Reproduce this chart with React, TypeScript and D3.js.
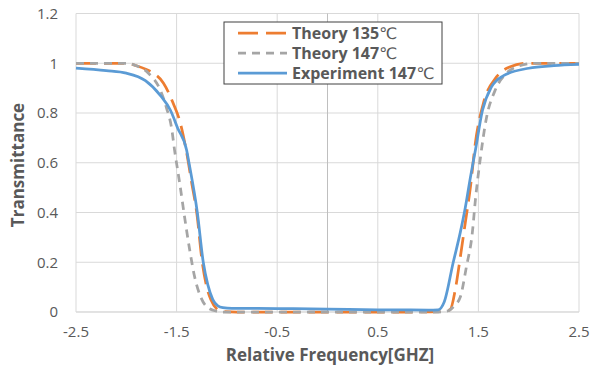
import React from "react";
import * as d3 from "d3";

const xTicks = [-2.5, -1.5, -0.5, 0.5, 1.5, 2.5];
const yTicks = [0, 0.2, 0.4, 0.6, 0.8, 1, 1.2];

const theory135X = [-2.5, -2.2, -2.0, -1.9, -1.8, -1.73, -1.63, -1.535, -1.47, -1.4, -1.35, -1.3, -1.245, -1.2, -1.16, -1.1, -1.05, -0.9, 0, 0.9, 1.15, 1.22, 1.27, 1.32, 1.37, 1.42, 1.47, 1.55, 1.68, 1.81, 1.98, 2.2, 2.5];
const theory135Y = [1, 1, 1, 0.99, 0.975, 0.96, 0.92, 0.84, 0.77, 0.64, 0.52, 0.4, 0.2, 0.1, 0.05, 0.012, 0.002, 0, 0, 0, 0.002, 0.01, 0.09, 0.22, 0.36, 0.5, 0.68, 0.84, 0.945, 0.985, 1, 1, 1];

const theory147X = [-2.5, -2.2, -2.0, -1.9, -1.78, -1.66, -1.6, -1.55, -1.52, -1.47, -1.42, -1.37, -1.32, -1.26, -1.18, -1.1, -1.05, -0.9, 0, 0.9, 1.1, 1.2, 1.26, 1.32, 1.38, 1.44, 1.47, 1.52, 1.58, 1.665, 1.78, 1.91, 2.05, 2.5];
const theory147Y = [1, 1, 1, 0.99, 0.96, 0.89, 0.82, 0.74, 0.65, 0.52, 0.38, 0.25, 0.14, 0.06, 0.015, 0.003, 0, 0, 0, 0, 0, 0.005, 0.025, 0.06, 0.18, 0.32, 0.45, 0.62, 0.78, 0.89, 0.96, 0.99, 1, 1];

const experimentX = [-2.5, -2.2, -2.0, -1.81, -1.66, -1.56, -1.49, -1.4, -1.377, -1.294, -1.235, -1.19, -1.14, -1.09, -1.04, -0.95, -0.5, 0, 0.5, 1.0, 1.1, 1.16, 1.25, 1.32, 1.37, 1.42, 1.47, 1.54, 1.63, 1.75, 2.0, 2.25, 2.5];
const experimentY = [0.98, 0.97, 0.96, 0.93, 0.87, 0.81, 0.74, 0.65, 0.6, 0.4, 0.2, 0.11, 0.05, 0.025, 0.018, 0.015, 0.014, 0.012, 0.009, 0.008, 0.009, 0.04, 0.2, 0.32, 0.42, 0.54, 0.65, 0.81, 0.905, 0.95, 0.98, 0.99, 0.995];

const seriesNames = ["Theory 135", "Theory 147", "Experiment 147"];
const seriesColors = ["#ED7D31", "#A5A5A5", "#5B9BD5"];
const seriesDash = ["20 8", "8 6", ""];

const W = 592;
const H = 372;
const FONT = "'Open Sans', 'Noto Sans', sans-serif";
const TXT = "#595959";

export default function App() {
  const x = d3.scaleLinear().domain([-2.5, 2.5]).range([76, 579]);
  const y = d3.scaleLinear().domain([0, 1.2]).range([312, 13.5]);

  const line = d3
    .line<[number, number]>()
    .x((d) => x(d[0]))
    .y((d) => y(d[1]))
    .curve(d3.curveMonotoneX);

  const series = [
    d3.zip(theory135X, theory135Y) as [number, number][],
    d3.zip(theory147X, theory147Y) as [number, number][],
    d3.zip(experimentX, experimentY) as [number, number][],
  ];

  const legend = { x: 224, y: 22, w: 218, h: 62 };

  return (
    <svg width={W} height={H} style={{ position: "absolute", left: 0, top: 0 }}>
      <rect x={0} y={0} width={W} height={H} fill="#fff" />
      {yTicks.map((t) => (
        <line key={"gy" + t} x1={x(-2.5)} x2={x(2.5)} y1={y(t)} y2={y(t)} stroke="#D9D9D9" strokeWidth={1} />
      ))}
      {xTicks.map((t) => (
        <line key={"gx" + t} x1={x(t)} x2={x(t)} y1={y(0)} y2={y(1.2)} stroke="#D9D9D9" strokeWidth={1} />
      ))}
      <line x1={x(0)} x2={x(0)} y1={y(0)} y2={y(1.2)} stroke="#BFBFBF" strokeWidth={1} />
      <line x1={x(-2.5)} x2={x(2.5)} y1={y(0)} y2={y(0)} stroke="#D9D9D9" strokeWidth={1} />

      {series.map((s, i) => (
        <path
          key={"s" + i}
          d={line(s) || ""}
          fill="none"
          stroke={seriesColors[i]}
          strokeWidth={2.75}
          strokeDasharray={seriesDash[i] || undefined}
        />
      ))}

      {yTicks.map((t) => (
        <text key={"ty" + t} x={58} y={y(t)} dy="0.36em" textAnchor="end" fontFamily={FONT} fontSize={15} fill={TXT}>
          {String(t)}
        </text>
      ))}
      {xTicks.map((t) => (
        <text key={"tx" + t} x={x(t)} y={337} textAnchor="middle" fontFamily={FONT} fontSize={15} fill={TXT}>
          {String(t)}
        </text>
      ))}
      <text x={330} y={361} textAnchor="middle" fontFamily={FONT} fontSize={17} fontWeight="bold" fill={TXT}>
        Relative Frequency[GHZ]
      </text>
      <text
        transform={`translate(24,${165}) rotate(-90)`}
        textAnchor="middle"
        fontFamily={FONT}
        fontSize={17}
        fontWeight="bold"
        fill={TXT}
      >
        Transmittance
      </text>

      <rect x={legend.x} y={legend.y} width={legend.w} height={legend.h} fill="#fff" stroke="#404040" strokeWidth={1} />
      {seriesNames.map((n, i) => {
        const ly = 33 + i * 20;
        return (
          <g key={"l" + i}>
            <line x1={238} x2={287} y1={ly} y2={ly} stroke={seriesColors[i]} strokeWidth={2.75} strokeDasharray={seriesDash[i] || undefined} />
            <text x={292} y={ly} dy="0.36em" fontFamily={FONT} fontSize={16} fontWeight="bold" fill={TXT}>
              {n}
              <tspan fontWeight="normal" fontSize={16} fontFamily="'DejaVu Sans', sans-serif">℃</tspan>
            </text>
          </g>
        );
      })}
    </svg>
  );
}
